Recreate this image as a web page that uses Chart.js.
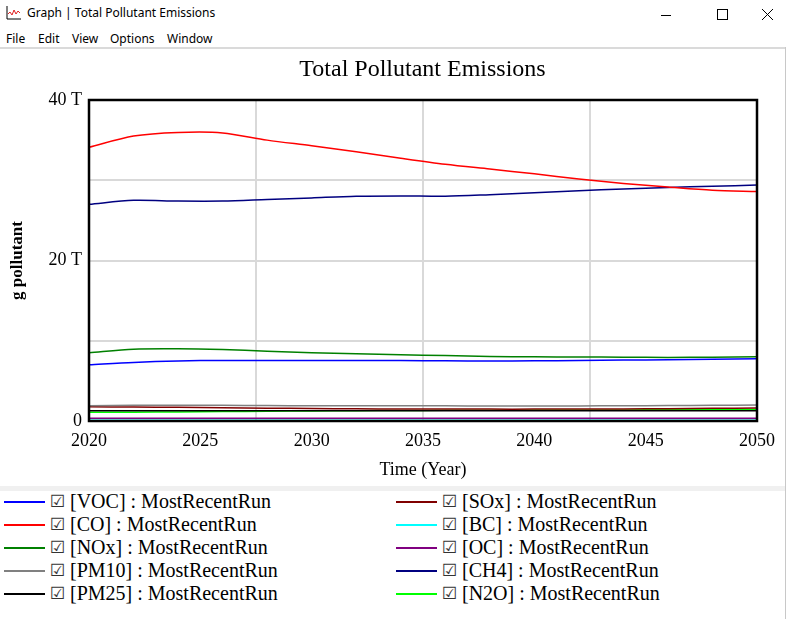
<!DOCTYPE html>
<html>
<head>
<meta charset="utf-8">
<script src="https://cdn.jsdelivr.net/npm/chart.js@4.4.1/dist/chart.umd.min.js"></script>
<style>
  body { margin: 0; width: 792px; height: 619px; overflow: hidden; background: #fff; position: relative; font-family: "Noto Sans", sans-serif; }
  .abs { position: absolute; }
  #wintitle { left: 27px; top: 4px; font-size: 12px; color: #000; }
  #menu span { position: absolute; top: 30px; font-size: 12px; color: #000; }
  #sep { left: 0; top: 47px; width: 786px; height: 2px; background: #dadada; }
  #rightedge { left: 785px; top: 47px; width: 1px; height: 572px; background: #c8c8c8; }
  #chartTitle { left: 0; width: 845px; top: 55px; text-align: center; font-family: "Liberation Serif", serif; font-size: 24px; color: #000; }
  #band { left: 0; top: 486px; width: 785px; height: 5px; background: #f0f0f0; }
  .leg { position: absolute; height: 23px; font-family: "Liberation Serif", serif; font-size: 20px; line-height: 23px; color: #000; white-space: nowrap; }
  .leg .ln { position: absolute; left: 0; top: 11px; width: 41px; height: 2px; }
  .leg .cb { position: absolute; left: 46px; top: 0; font-family: "DejaVu Sans", sans-serif; font-size: 17px; color: #333; }
  .leg .tx { position: absolute; left: 66px; top: 0; }
</style>
</head>
<body>
<svg class="abs" style="left:6px;top:5px" width="16" height="16">
  <path d="M1 1 V14 H15" stroke="#000" fill="none" stroke-width="1"/>
  <path d="M2 9 L4 7 L6 10 L8 5 L10 9 L12 6 L14 8" stroke="#e02020" fill="none" stroke-width="1"/>
</svg>
<div id="wintitle" class="abs">Graph | Total Pollutant Emissions</div>
<svg class="abs" style="left:655px;top:4px" width="130" height="20">
  <line x1="6" y1="11.5" x2="16" y2="11.5" stroke="#000" stroke-width="1"/>
  <rect x="62.5" y="5.5" width="10" height="10" stroke="#000" fill="none" stroke-width="1"/>
  <path d="M107 5 L118 16 M118 5 L107 16" stroke="#000" stroke-width="1"/>
</svg>
<div id="menu">
  <span style="left:6px">File</span>
  <span style="left:38px">Edit</span>
  <span style="left:72px">View</span>
  <span style="left:110px">Options</span>
  <span style="left:167px">Window</span>
</div>
<div id="sep" class="abs"></div>
<div id="rightedge" class="abs"></div>
<canvas id="chart" class="abs" style="left:0;top:49px" width="785" height="437"></canvas>
<div id="chartTitle" class="abs">Total Pollutant Emissions</div>
<div id="band" class="abs"></div>
<div id="legend"></div>

<script>
// simulation years and series values (T = 10^12 g pollutant)
const years = [2020, 2022, 2024, 2026, 2028, 2030, 2032, 2034, 2036, 2038, 2040, 2042, 2044, 2046, 2048, 2050];
const vocValues  = [7.00, 7.30, 7.48, 7.55, 7.55, 7.55, 7.55, 7.53, 7.50, 7.48, 7.50, 7.55, 7.60, 7.63, 7.70, 7.76];
const coValues   = [34.1, 35.5, 35.95, 35.9, 35.0, 34.3, 33.55, 32.75, 32.0, 31.4, 30.8, 30.15, 29.6, 29.15, 28.75, 28.6];
const noxValues  = [8.50, 8.95, 9.00, 8.90, 8.70, 8.52, 8.38, 8.25, 8.15, 8.05, 8.00, 7.97, 7.95, 7.92, 7.95, 8.00];
const pm10Values = [1.90, 1.95, 1.97, 1.95, 1.92, 1.90, 1.90, 1.90, 1.89, 1.88, 1.88, 1.88, 1.90, 1.93, 1.96, 1.98];
const pm25Values = [1.28, 1.28, 1.28, 1.28, 1.27, 1.27, 1.27, 1.27, 1.27, 1.27, 1.27, 1.27, 1.27, 1.27, 1.27, 1.27];
const soxValues  = [1.78, 1.74, 1.70, 1.66, 1.60, 1.55, 1.52, 1.50, 1.49, 1.48, 1.48, 1.49, 1.50, 1.53, 1.58, 1.62];
const bcValues   = [0.10, 0.10, 0.10, 0.10, 0.10, 0.10, 0.10, 0.10, 0.10, 0.10, 0.10, 0.10, 0.10, 0.10, 0.10, 0.10];
const ocValues   = [0.34, 0.34, 0.34, 0.34, 0.34, 0.34, 0.34, 0.34, 0.34, 0.34, 0.34, 0.34, 0.34, 0.35, 0.35, 0.35];
const ch4Values  = [27.0, 27.5, 27.4, 27.4, 27.6, 27.8, 28.0, 28.05, 28.0, 28.2, 28.45, 28.7, 28.9, 29.1, 29.25, 29.4];
const n2oValues  = [1.08, 1.10, 1.13, 1.17, 1.21, 1.25, 1.28, 1.31, 1.33, 1.35, 1.36, 1.37, 1.38, 1.40, 1.42, 1.44];

const seriesNames = ['VOC', 'CO', 'NOx', 'PM10', 'PM25', 'SOx', 'BC', 'OC', 'CH4', 'N2O'];
const seriesValues = [vocValues, coValues, noxValues, pm10Values, pm25Values, soxValues, bcValues, ocValues, ch4Values, n2oValues];
const seriesColors = ['#0000ff', '#ff0000', '#008000', '#808080', '#000000', '#800000', '#00ffff', '#800080', '#000080', '#00ff00'];
const runName = 'MostRecentRun';

const serif = '"Liberation Serif", "Times New Roman", serif';

// legend, two columns like the Vensim window
const legend = document.getElementById('legend');
seriesNames.forEach((name, i) => {
  const col = Math.floor(i / 5);
  const row = i % 5;
  const item = document.createElement('div');
  item.className = 'leg';
  item.style.left = (col === 0 ? 4 : 396) + 'px';
  item.style.top = (490 + row * 23) + 'px';
  item.innerHTML = `<div class="ln" style="background:${seriesColors[i]}"></div><span class="cb">☑</span><span class="tx">[${name}] : ${runName}</span>`;
  legend.appendChild(item);
});

// black box round the plot area
const framePlugin = {
  id: 'frame',
  afterDatasetsDraw(chart) {
    const { ctx, chartArea } = chart;
    ctx.save();
    ctx.strokeStyle = '#000';
    ctx.lineWidth = 2.5;
    ctx.strokeRect(chartArea.left, chartArea.top, chartArea.right - chartArea.left, chartArea.bottom - chartArea.top);
    ctx.restore();
  }
};

new Chart(document.getElementById('chart'), {
  type: 'line',
  data: {
    datasets: seriesNames.map((name, i) => ({
      label: name,
      data: years.map((yr, j) => ({ x: yr, y: seriesValues[i][j] })),
      borderColor: seriesColors[i],
      borderWidth: 1.5,
      pointRadius: 0,
      tension: 0.3,
      xAxisID: 'x',
      yAxisID: 'y',
    }))
  },
  options: {
    responsive: false,
    animation: false,
    layout: { padding: { top: 51, right: 28, left: 0, bottom: 0 } },
    scales: {
      x: {
        type: 'linear',
        position: 'bottom',
        min: 2020,
        max: 2050,
        ticks: { stepSize: 5, padding: 9, color: '#000', font: { family: serif, size: 18 }, maxRotation: 0, callback: (v) => String(v) },
        grid: { display: false, drawTicks: false },
        border: { display: false },
        title: { display: true, text: 'Time (Year)', color: '#000', font: { family: serif, size: 18 }, padding: { top: 0, bottom: 5 } },
        afterFit: (s) => { s.height = 65; }
      },
      xg: {
        type: 'linear',
        position: 'top',
        min: 2020,
        max: 2050,
        ticks: { display: false, stepSize: 7.5 },
        grid: { color: '#d9d9d9', lineWidth: 2, drawTicks: false },
        border: { display: false },
        afterFit: (s) => { s.height = 0; }
      },
      y: {
        min: 0,
        max: 40,
        ticks: {
          stepSize: 10,
          padding: 7,
          color: '#000',
          font: { family: serif, size: 18 },
          callback: (v) => v === 0 ? '0' : (v % 20 === 0 ? v + ' T' : '')
        },
        grid: { color: '#d9d9d9', lineWidth: 2, drawTicks: false },
        border: { display: false },
        title: { display: true, text: 'g pollutant', color: '#000', font: { family: serif, size: 17, weight: 'bold' }, padding: { top: 7, bottom: 0 } },
        afterFit: (s) => { s.width = 89; }
      }
    },
    plugins: {
      legend: { display: false },
      tooltip: { enabled: false },
      title: { display: false }
    }
  },
  plugins: [framePlugin]
});
</script>
</body>
</html>
